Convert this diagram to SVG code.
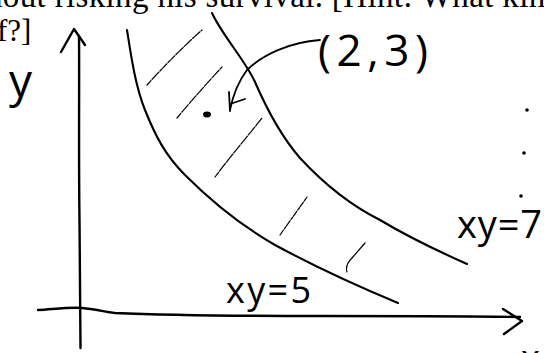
<svg xmlns="http://www.w3.org/2000/svg" width="544" height="353" viewBox="0 0 544 353">
<style>
.ink{fill:none;stroke:#000;stroke-linecap:round;stroke-linejoin:round}
.ax{stroke-width:2.4}
.cv{stroke-width:2.1}
.ht{stroke-width:1.2;stroke-dasharray:6 1.5 3 1}
.hand{font-family:"Open Sans","Lato","DejaVu Sans",sans-serif;font-weight:400;fill:#000}
.print{font-family:"Liberation Serif","Times New Roman",serif;fill:#000}
</style>
<rect width="544" height="353" fill="#fff"/>
<g id="printed-text">
<text class="print" x="-14" y="7" font-size="33" textLength="576" lengthAdjust="spacing">hout risking his survival. [Hint: What kind</text>
<text class="print" x="-3" y="41" font-size="31">f?]</text>
</g>
<g id="y-axis">
<path class="ink ax" d="M79,36 C79.5,80 78.5,150 79.5,220 C80,270 80.5,310 80.5,348"/>
<path class="ink ax" d="M61,52 L74,29 L85,45"/>
</g>
<g id="x-axis">
<path class="ink ax" d="M38,310 C55,309 70,307 82,308 C95,309 105,312 115,313 C160,315 250,316 320,316 C400,316 470,316 520,317"/>
<path class="ink ax" d="M503,309 L522,321 L504,334"/>
</g>
<g id="curve-xy7">
<path class="ink cv" d="M212,13 C222,35 245,60 255,82 C265,105 280,135 300,158 C325,185 350,205 380,220 C410,238 440,252 467,264"/>
</g>
<g id="curve-xy5">
<path class="ink cv" d="M127,30 C131,55 135,85 145,110 C155,135 165,155 185,175 C210,200 240,225 275,245 C310,264 350,283 398,303"/>
</g>
<g id="hatching">
<path class="ink ht" d="M147,85 C165,65 185,45 202,30"/>
<path class="ink ht" d="M177,118 C192,100 208,82 222,67"/>
<path class="ink ht" d="M215,177 C230,157 247,137 262,118"/>
<path class="ink ht" d="M280,235 C289,222 298,210 307,197"/>
<path class="ink" stroke-width="1.2" d="M347,272 C345,266 348,262 352,258 L365,243"/>
</g>
<g id="point">
<ellipse cx="207" cy="114.5" rx="4" ry="3" fill="#000"/>
</g>
<g id="marks">
<circle cx="527" cy="110" r="1.8" fill="#000"/>
<circle cx="524" cy="153" r="1.8" fill="#000"/>
<circle cx="521" cy="196" r="1.8" fill="#000"/>
</g>
<g id="connectors">
<path class="ink" stroke-width="1.8" d="M320,40 C290,42 262,55 247,70 C238,82 233,95 230,110"/>
<path class="ink" stroke-width="1.8" d="M229,92 L230,111 M230,104 L245,99"/>
</g>
<g id="labels">
<text class="hand" x="9" y="97" font-size="46">y</text>
<text class="hand" x="318" y="66" font-size="44" textLength="110" lengthAdjust="spacing">(2,3)</text>
<text class="hand" x="457" y="238" font-size="38" textLength="85" lengthAdjust="spacing">xy=7</text>
<text class="hand" x="226" y="303" font-size="36" textLength="85" lengthAdjust="spacing">xy=5</text>
<text class="hand" x="521" y="371" font-size="36">x</text>
</g>
</svg>
